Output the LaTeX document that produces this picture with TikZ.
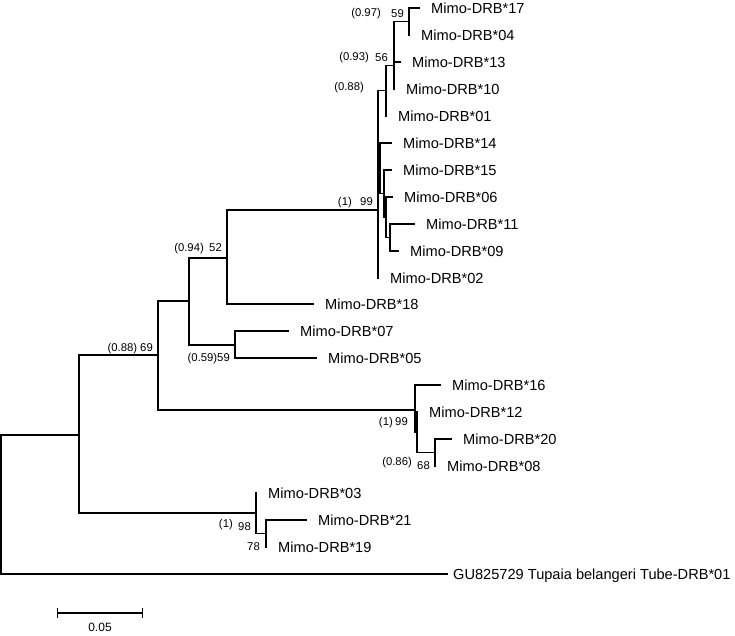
\documentclass[tikz,border=0pt]{standalone}
\usepackage{fontspec}
\setmainfont{Liberation Sans}
\usetikzlibrary{arrows.meta}
\tikzset{
  branch/.style={line width=1.3pt, line cap=rect, line join=miter},
  leaf/.style={inner sep=0pt, anchor=base west, font=\fontsize{14.6}{16}\selectfont},
  bs/.style={inner sep=0pt, anchor=base east, font=\fontsize{11.3}{13}\selectfont},
}
\newcommand{\leaflab}[3]{\node[leaf] (#1) at ([xshift=12pt,yshift=-5.2pt]#2) {#3};}
\begin{document}
\begin{tikzpicture}[x=1pt,y=-1pt]
\useasboundingbox (0,0) rectangle (735,635);
% internal nodes
\coordinate (root) at (1,504);
\coordinate (n79) at (79,435);
\coordinate (n158) at (158,355);
\coordinate (n189) at (189,301);
\coordinate (n227) at (227,258);
\coordinate (n235) at (235,345);
\coordinate (n378) at (378,210);
\coordinate (nC) at (386,90.7);
\coordinate (nB2) at (394,65.5);
\coordinate (nB) at (394,41.75);
\coordinate (nA) at (409,21.5);
\coordinate (nH) at (380,168);
\coordinate (nG) at (384,193.5);
\coordinate (nF) at (386,217);
\coordinate (nE) at (390,237.5);
\coordinate (nP) at (415,410);
\coordinate (nQ) at (417,432);
\coordinate (nR) at (435,452.5);
\coordinate (nS) at (256,513);
\coordinate (nT) at (266,533.5);
% tips
\coordinate (t17) at (419,8);
\coordinate (t04) at (409,35);
\coordinate (t13) at (400,62);
\coordinate (t10) at (394,89);
\coordinate (t01) at (386,116);
\coordinate (t14) at (391,143);
\coordinate (t15) at (391,170);
\coordinate (t06) at (392,197);
\coordinate (t11) at (414,224);
\coordinate (t09) at (398,251);
\coordinate (t02) at (378,278);
\coordinate (t18) at (313,304);
\coordinate (t07) at (288,331);
\coordinate (t05) at (316,358);
\coordinate (t16) at (440,385);
\coordinate (t12) at (417,412);
\coordinate (t20) at (451,439);
\coordinate (t08) at (435,466);
\coordinate (t03) at (256,493);
\coordinate (t21) at (306,520);
\coordinate (t19) at (266,547);
\coordinate (og) at (447,574);
% branches
\draw[branch] (root) |- (n79);
\draw[branch] (root) |- (og);
\draw[branch] (n79) |- (n158);
\draw[branch] (n79) |- (nS);
\draw[branch] (n158) |- (n189);
\draw[branch] (n158) |- (nP);
\draw[branch] (n189) |- (n227);
\draw[branch] (n189) |- (n235);
\draw[branch] (n227) |- (n378);
\draw[branch] (n227) |- (t18);
\draw[branch] (n235) |- (t07);
\draw[branch] (n235) |- (t05);
\draw[branch] (n378) |- (nC);
\draw[branch] (n378) |- (nH);
\draw[branch] (n378) |- (t02);
\draw[branch] (nC) |- (nB2);
\draw[branch] (nC) |- (t01);
\draw[branch] (nB2) |- (nB);
\draw[branch] (nB2) |- (t10);
\draw[branch] (nB) |- (nA);
\draw[branch] (nB) |- (t13);
\draw[branch] (nA) |- (t17);
\draw[branch] (nA) |- (t04);
\draw[branch] (nH) |- (t14);
\draw[branch] (nH) |- (nG);
\draw[branch] (nG) |- (t15);
\draw[branch] (nG) |- (nF);
\draw[branch] (nF) |- (t06);
\draw[branch] (nF) |- (nE);
\draw[branch] (nE) |- (t11);
\draw[branch] (nE) |- (t09);
\draw[branch] (nP) |- (t16);
\draw[branch] (nP) |- (nQ);
\draw[branch] (nQ) |- (t12);
\draw[branch] (nQ) |- (nR);
\draw[branch] (nR) |- (t20);
\draw[branch] (nR) |- (t08);
\draw[branch] (nS) |- (t03);
\draw[branch] (nS) |- (nT);
\draw[branch] (nT) |- (t21);
\draw[branch] (nT) |- (t19);
% leaf labels
\leaflab{l17}{t17}{Mimo-DRB*17}
\leaflab{l04}{t04}{Mimo-DRB*04}
\leaflab{l13}{t13}{Mimo-DRB*13}
\leaflab{l10}{t10}{Mimo-DRB*10}
\leaflab{l01}{t01}{Mimo-DRB*01}
\leaflab{l14}{t14}{Mimo-DRB*14}
\leaflab{l15}{t15}{Mimo-DRB*15}
\leaflab{l06}{t06}{Mimo-DRB*06}
\leaflab{l11}{t11}{Mimo-DRB*11}
\leaflab{l09}{t09}{Mimo-DRB*09}
\leaflab{l02}{t02}{Mimo-DRB*02}
\leaflab{l18}{t18}{Mimo-DRB*18}
\leaflab{l07}{t07}{Mimo-DRB*07}
\leaflab{l05}{t05}{Mimo-DRB*05}
\leaflab{l16}{t16}{Mimo-DRB*16}
\leaflab{l12}{t12}{Mimo-DRB*12}
\leaflab{l20}{t20}{Mimo-DRB*20}
\leaflab{l08}{t08}{Mimo-DRB*08}
\leaflab{l03}{t03}{Mimo-DRB*03}
\leaflab{l21}{t21}{Mimo-DRB*21}
\leaflab{l19}{t19}{Mimo-DRB*19}
\node[leaf] (log) at ([xshift=6pt,yshift=-5.2pt]og) {GU825729 Tupaia belangeri Tube-DRB*01};
% support values
\node[bs] (p1a) at (381,16.8) {(0.97)};
\node[bs] (b1a) at (404,17.8) {59};
\node[bs] (p1b) at (369,60.8) {(0.93)};
\node[bs] (b1b) at (388,61.8) {56};
\node[bs] (p1c) at (364,90.8) {(0.88)};
\node[bs] (p99) at (352,205.8) {(1)};
\node[bs] (b99) at (373,205.8) {99};
\node[bs] (p52) at (204,251.8) {(0.94)};
\node[bs] (b52) at (222,251.8) {52};
\node[bs] (b69) at (153,351.8) {(0.88) 69};
\node[bs] (b59) at (230,361.8) {(0.59)59};
\node[bs] (p99b) at (393,425.8) {(1)};
\node[bs] (b99b) at (408,425.8) {99};
\node[bs] (p68) at (412,465.8) {(0.86)};
\node[bs] (b68) at (430,469.8) {68};
\node[bs] (p98) at (233,527.8) {(1)};
\node[bs] (b98) at (251,530.8) {98};
\node[bs] (b78) at (260,550.8) {78};
% scale bar
\coordinate (sb1) at (57,613);
\coordinate (sb2) at (143,613);
\draw[line width=1.3pt, {Bar[width=10pt,line width=1.3pt]}-{Bar[width=10pt,line width=1.3pt]}] (sb1) -- (sb2);
\node[inner sep=0pt, font=\fontsize{12}{14}\selectfont] (sbl) at (100,627) {0.05};
\end{tikzpicture}
\end{document}
